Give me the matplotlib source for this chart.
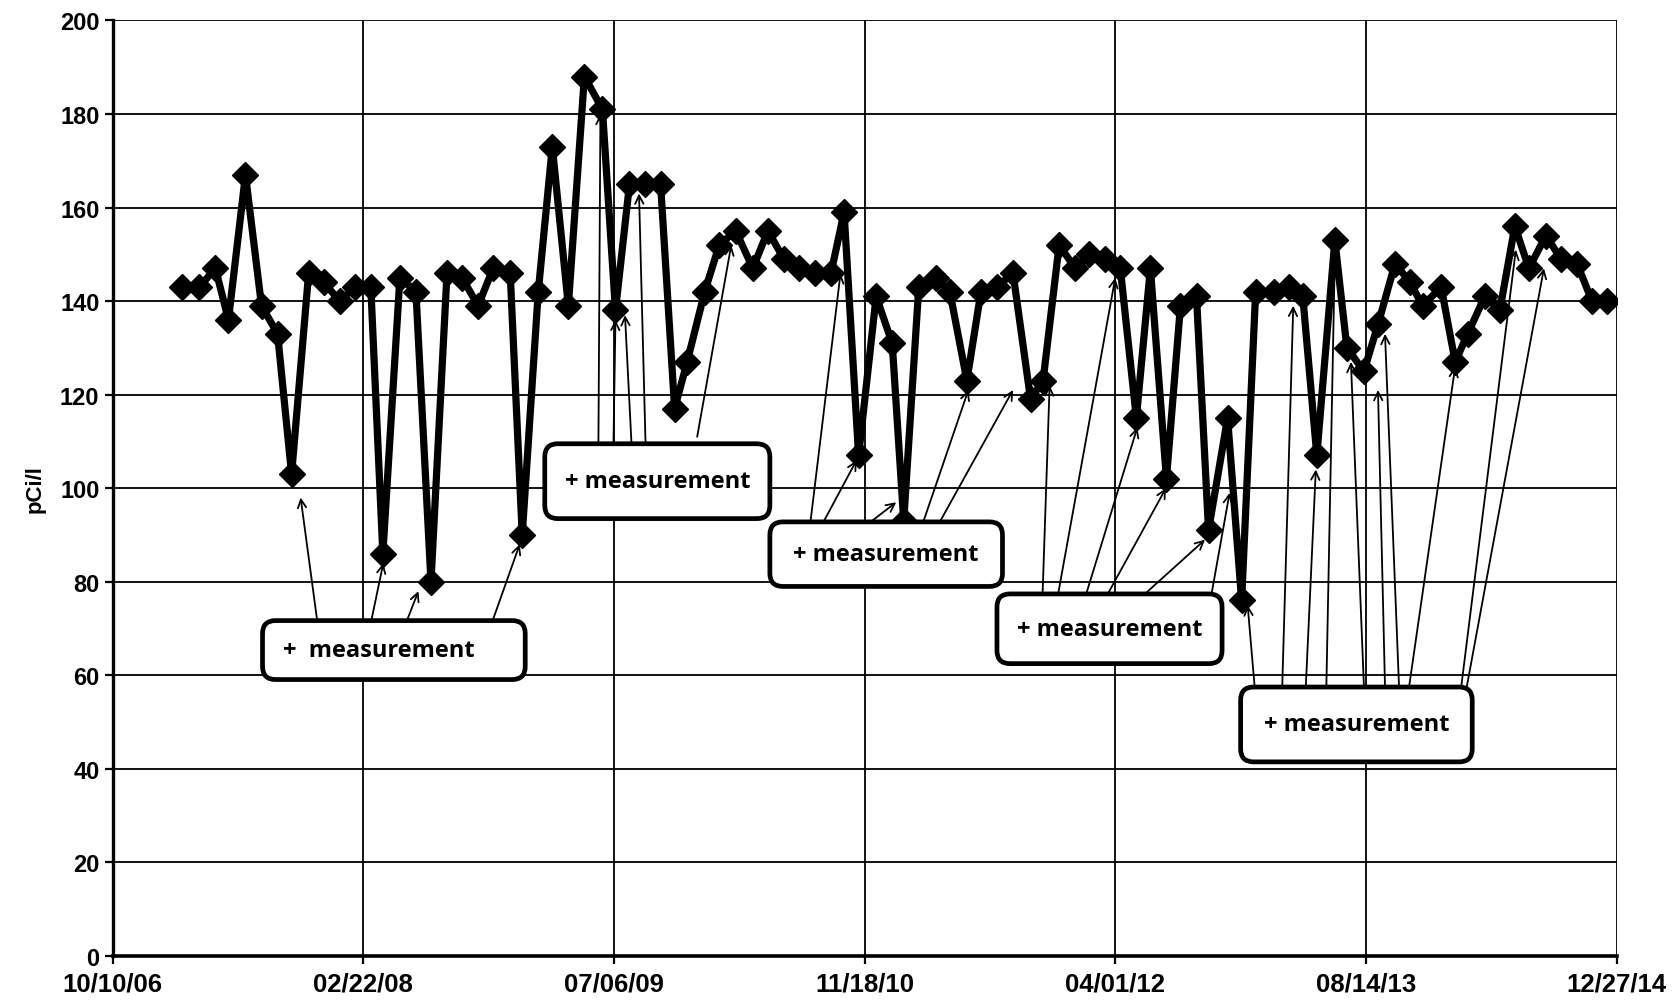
import matplotlib
matplotlib.use("Agg")
import matplotlib.pyplot as plt
import matplotlib.dates as mdates
from matplotlib.patches import FancyBboxPatch
import pandas as pd

# measurement dates and activity (pCi/l)
dates = [
    "2007-02-26", "2007-04-01", "2007-05-03", "2007-05-29", "2007-07-02", "2007-08-03", "2007-09-04", "2007-10-02", "2007-11-05", "2007-12-05",
    "2008-01-06", "2008-02-05", "2008-03-08", "2008-04-01", "2008-05-05", "2008-06-06", "2008-07-06", "2008-08-07", "2008-09-06", "2008-10-08",
    "2008-11-07", "2008-12-11", "2009-01-04", "2009-02-05", "2009-03-05", "2009-04-06", "2009-05-08", "2009-06-13", "2009-07-09", "2009-08-06",
    "2009-09-05", "2009-10-07", "2009-11-04", "2009-11-29", "2010-01-03", "2010-02-01", "2010-03-06", "2010-04-09", "2010-05-09", "2010-06-10",
    "2010-07-10", "2010-08-11", "2010-09-12", "2010-10-08", "2010-11-06", "2010-12-11", "2011-01-12", "2011-02-04", "2011-03-06", "2011-04-09",
    "2011-05-07", "2011-06-10", "2011-07-08", "2011-08-09", "2011-09-10", "2011-10-15", "2011-11-09", "2011-12-11", "2012-01-12", "2012-02-09",
    "2012-03-12", "2012-04-11", "2012-05-13", "2012-06-10", "2012-07-12", "2012-08-09", "2012-09-10", "2012-10-04", "2012-11-11", "2012-12-09",
    "2013-01-06", "2013-02-11", "2013-03-13", "2013-04-10", "2013-05-08", "2013-06-13", "2013-07-07", "2013-08-10", "2013-09-07", "2013-10-11",
    "2013-11-10", "2013-12-05", "2014-01-11", "2014-02-08", "2014-03-05", "2014-04-08", "2014-05-08", "2014-06-07", "2014-07-05", "2014-08-08",
    "2014-09-07", "2014-10-09", "2014-11-08", "2014-12-08",
]
values = [
    143, 143, 147, 136, 167, 139, 133, 103, 146, 144,
    140, 143, 143, 86, 145, 142, 80, 146, 145, 139,
    147, 146, 90, 142, 173, 139, 188, 181, 138, 165,
    165, 165, 117, 127, 142, 152, 155, 147, 155, 149,
    147, 146, 146, 159, 107, 141, 131, 93, 143, 145,
    142, 123, 142, 143, 146, 119, 123, 152, 147, 150,
    149, 147, 115, 147, 102, 139, 141, 91, 115, 76,
    142, 142, 143, 141, 107, 153, 130, 125, 135, 148,
    144, 139, 143, 127, 133, 141, 138, 156, 147, 154,
    149, 148, 140, 140,
]

tick_dates = ["2006-10-10", "2008-02-22", "2009-07-06", "2010-11-18",
              "2012-04-01", "2013-08-14", "2014-12-27"]
tick_labels = ["10/10/06", "02/22/08", "07/06/09", "11/18/10",
               "04/01/12", "08/14/13", "12/27/14"]
y_ticks = list(range(0, 201, 20))

label_text = "+ measurement"

# callout boxes: left, right, bottom, top
boxes = [
    ("2007-08-05", "2009-01-10", 59.1, 71.7),
    ("2009-02-18", "2010-05-13", 93.5, 109.5),
    ("2010-05-13", "2011-08-20", 79.0, 92.8),
    ("2011-08-09", "2012-10-31", 62.5, 77.4),
    ("2012-12-07", "2014-03-14", 41.5, 57.5),
]

# arrows: start date, start y, end date, end y
arrows = [
    ("2007-11-22", 71.7, "2007-10-20", 98),
    ("2008-03-09", 71.7, "2008-04-02", 84),
    ("2008-05-19", 71.7, "2008-06-11", 78),
    ("2008-11-06", 71.7, "2008-12-30", 88),
    ("2009-06-05", 109.5, "2009-06-09", 180),
    ("2009-07-05", 109.5, "2009-07-09", 136),
    ("2009-08-10", 109.5, "2009-07-28", 137),
    ("2009-09-07", 109.5, "2009-08-25", 163),
    ("2009-12-19", 111, "2010-02-25", 152),
    ("2010-08-02", 92.8, "2010-10-01", 146),
    ("2010-08-28", 92.8, "2010-11-02", 106),
    ("2010-11-30", 92.8, "2011-01-20", 97),
    ("2011-03-15", 92.8, "2011-06-13", 121),
    ("2011-04-17", 92.8, "2011-09-10", 121),
    ("2011-11-08", 77.4, "2011-11-22", 122),
    ("2011-12-09", 77.4, "2012-04-01", 145),
    ("2012-02-03", 77.4, "2012-05-15", 113),
    ("2012-03-17", 77.4, "2012-07-11", 100),
    ("2012-05-30", 77.4, "2012-09-27", 89),
    ("2012-10-10", 77.4, "2012-11-15", 99),
    ("2013-01-04", 57.5, "2012-12-21", 75),
    ("2013-02-28", 57.5, "2013-03-22", 139),
    ("2013-04-16", 57.5, "2013-05-06", 104),
    ("2013-05-27", 57.5, "2013-06-13", 150),
    ("2013-08-10", 57.5, "2013-07-15", 127),
    ("2013-09-21", 57.5, "2013-09-07", 121),
    ("2013-10-19", 57.5, "2013-09-21", 133),
    ("2013-11-08", 57.5, "2014-02-08", 126),
    ("2014-02-20", 57.5, "2014-06-09", 151),
    ("2014-03-03", 57.5, "2014-08-04", 147),
]

d = lambda s: mdates.date2num(pd.Timestamp(s))

fig = plt.figure(figsize=(16.81, 10.04), dpi=100)
ax = fig.add_axes([0.067, 0.0468, 0.8947, 0.9319])

ax.plot(pd.to_datetime(dates), values, color="black", lw=5.2,
        marker="D", markersize=13, zorder=4)

ax.set_xlim(d(tick_dates[0]), d(tick_dates[-1]))
ax.set_ylim(0, 200)
ax.set_xticks([d(t) for t in tick_dates])
ax.set_xticklabels(tick_labels)
ax.set_yticks(y_ticks)
ax.grid(True, color="black", lw=1.3)
ax.set_axisbelow(True)

for side in ["top", "right"]:
    ax.spines[side].set_visible(False)
ax.spines["left"].set_linewidth(2.4)
ax.spines["bottom"].set_linewidth(2.6)
ax.tick_params(axis="both", length=6, width=1.6, color="black")
ax.tick_params(axis="x", pad=5)
for lab in ax.get_xticklabels():
    lab.set_fontfamily(["Liberation Sans", "DejaVu Sans"])
    lab.set_fontweight("bold")
    lab.set_fontsize(18.5)
for lab in ax.get_yticklabels():
    lab.set_fontfamily(["Liberation Sans", "DejaVu Sans"])
    lab.set_fontweight("bold")
    lab.set_fontsize(17)
ax.set_ylabel("pCi/l", fontsize=16, fontweight="bold",
              family=["Liberation Sans", "DejaVu Sans"], labelpad=10)

# aspect correction so box corners stay round in pixels
px_per_day = ax.get_position().width * fig.get_figwidth() * fig.dpi / (d(tick_dates[-1]) - d(tick_dates[0]))
px_per_unit = ax.get_position().height * fig.get_figheight() * fig.dpi / 200
aspect = px_per_day / px_per_unit

for x0, x1, y0, y1 in boxes:
    a, b = d(x0), d(x1)
    box = FancyBboxPatch((a, y0), b - a, y1 - y0,
                         boxstyle="round,pad=0,rounding_size=26",
                         mutation_aspect=aspect, facecolor="white",
                         edgecolor="black", lw=3.4, zorder=6)
    ax.add_patch(box)
    if x0 == boxes[0][0]:
        ax.text(d("2007-09-14"), (y0 + y1) / 2, "+  measurement", ha="left",
                va="center", fontsize=17, family=["Open Sans", "DejaVu Sans"],
                fontweight="bold", zorder=7)
    else:
        ax.text((a + b) / 2, (y0 + y1) / 2, label_text, ha="center",
                va="center", fontsize=17, family=["Open Sans", "DejaVu Sans"],
                fontweight="bold", zorder=7)

for sx, sy, ex, ey in arrows:
    ax.annotate("", xy=(d(ex), ey), xytext=(d(sx), sy),
                arrowprops=dict(arrowstyle="->", color="black", lw=1.3,
                                shrinkA=0, shrinkB=0, mutation_scale=15),
                zorder=5)

fig.savefig("out.png", dpi=100)
